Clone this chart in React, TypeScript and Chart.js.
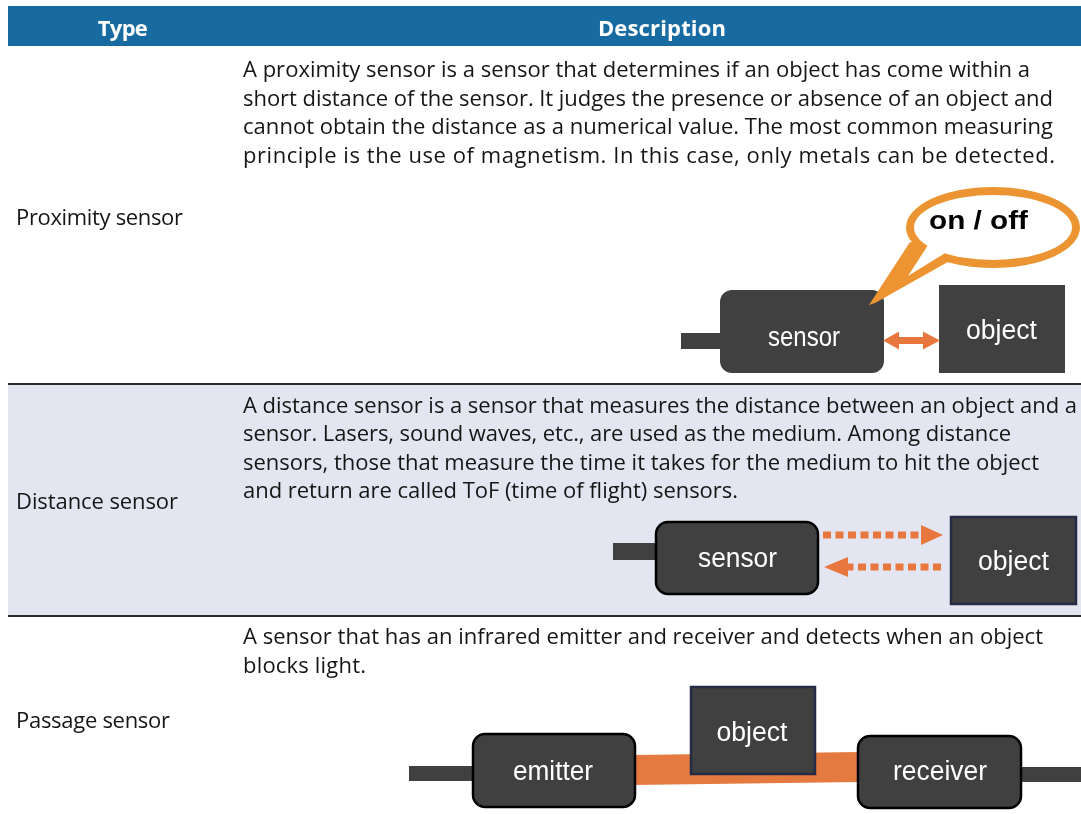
import React, { useEffect, useLayoutEffect, useRef } from "react";
import { Chart, registerables } from "chart.js";

Chart.register(...registerables);

// ---- data ----
const headers = ["Type", "Description"];
const types = ["Proximity sensor", "Distance sensor", "Passage sensor"];
const proximityLines = [
  "A proximity sensor is a sensor that determines if an object has come within a",
  "short distance of the sensor. It judges the presence or absence of an object and",
  "cannot obtain the distance as a numerical value. The most common measuring",
  "principle is the use of magnetism. In this case, only metals can be detected.",
];
const distanceLines = [
  "A distance sensor is a sensor that measures the distance between an object and a",
  "sensor. Lasers, sound waves, etc., are used as the medium. Among distance",
  "sensors, those that measure the time it takes for the medium to hit the object",
  "and return are called ToF (time of flight) sensors.",
];
const passageLines = [
  "A sensor that has an infrared emitter and receiver and detects when an object",
  "blocks light.",
];
const diagramWords = ["sensor", "object", "on / off", "emitter", "receiver"];

const headerWidths = [50, 128];
const typeWidths = [167, 162, 154];
const proximityWidths = [787, 810, 810, 812];
const distanceWidths = [834, 768, 796, 495];
const passageWidths = [800, 123];

const W = 1081;
const H = 814;
const DARK = "#404040";
const ORANGE = "#e8773f";
const BUBBLE = "#ec9431";
const FONT = "'Open Sans', 'Noto Sans', sans-serif";

function rrect(ctx: CanvasRenderingContext2D, x0: number, y0: number, x1: number, y1: number, r: number) {
  ctx.beginPath();
  ctx.moveTo(x0 + r, y0);
  ctx.lineTo(x1 - r, y0);
  ctx.arcTo(x1, y0, x1, y0 + r, r);
  ctx.lineTo(x1, y1 - r);
  ctx.arcTo(x1, y1, x1 - r, y1, r);
  ctx.lineTo(x0 + r, y1);
  ctx.arcTo(x0, y1, x0, y1 - r, r);
  ctx.lineTo(x0, y0 + r);
  ctx.arcTo(x0, y0, x0 + r, y0, r);
  ctx.closePath();
}

const diagramPlugin = {
  id: "diagrams",
  afterDraw(chart: any) {
    const ctx: CanvasRenderingContext2D = chart.ctx;
    const sx = chart.scales.x;
    const sy = chart.scales.y;
    const X = (v: number) => sx.getPixelForValue(v);
    const Y = (v: number) => sy.getPixelForValue(v);

    const rect = (x0: number, y0: number, x1: number, y1: number, fill: string) => {
      ctx.fillStyle = fill;
      ctx.fillRect(X(x0), Y(y0), X(x1) - X(x0), Y(y1) - Y(y0));
    };
    const box = (x0: number, y0: number, x1: number, y1: number, r: number, stroke: string | null) => {
      rrect(ctx, X(x0), Y(y0), X(x1), Y(y1), r);
      ctx.fillStyle = DARK;
      ctx.fill();
      if (stroke) {
        ctx.lineWidth = 2.5;
        ctx.strokeStyle = stroke;
        ctx.stroke();
      }
    };
    const label = (text: string, cx: number, base: number, w: number, font: string, color: string) => {
      ctx.save();
      ctx.font = font;
      ctx.fillStyle = color;
      ctx.textAlign = "left";
      ctx.textBaseline = "alphabetic";
      const m = ctx.measureText(text).width;
      ctx.translate(X(cx) - w / 2, Y(base));
      ctx.scale(w / m, 1);
      ctx.fillText(text, 0, 0);
      ctx.restore();
    };
    const poly = (pts: number[][], fill: string) => {
      ctx.beginPath();
      pts.forEach((p, i) => (i === 0 ? ctx.moveTo(X(p[0]), Y(p[1])) : ctx.lineTo(X(p[0]), Y(p[1]))));
      ctx.closePath();
      ctx.fillStyle = fill;
      ctx.fill();
    };
    const ellipse = (cx: number, cy: number, rx: number, ry: number, fill: string) => {
      ctx.beginPath();
      ctx.ellipse(X(cx), Y(cy), rx, ry, 0, 0, Math.PI * 2);
      ctx.fillStyle = fill;
      ctx.fill();
    };
    const labelFont = "27px 'Liberation Sans', Arial, sans-serif";

    // ---------- proximity diagram ----------
    rect(681, 333, 722, 349, DARK);
    box(720, 290, 884, 373, 12, null);
    rect(939, 285, 1065, 373, DARK);
    label(diagramWords[0], 804, 346, 72, labelFont, "#ffffff");
    label(diagramWords[1], 1001.5, 339, 71, labelFont, "#ffffff");
    poly(
      [
        [883, 340.5],
        [899, 331.5],
        [899, 337],
        [923, 337],
        [923, 331.5],
        [940, 340.5],
        [923, 349.5],
        [923, 344],
        [899, 344],
        [899, 349.5],
      ],
      ORANGE
    );

    // speech bubble (drawn over the sensor corner)
    ellipse(993, 227.5, 87, 40.5, BUBBLE);
    poly(
      [
        [910, 242],
        [962, 254],
        [875, 303],
        [869, 305],
      ],
      BUBBLE
    );
    ellipse(993, 227.5, 79, 32.5, "#ffffff");
    poly(
      [
        [930, 242],
        [950, 250],
        [908, 276],
      ],
      "#ffffff"
    );
    label(diagramWords[2], 978.5, 229, 99, "bold 26px 'Liberation Sans', Arial, sans-serif", "#000000");

    // ---------- distance diagram ----------
    rect(613, 543, 658, 560, DARK);
    box(656, 522, 818, 594, 12, "#000000");
    rrect(ctx, X(951), Y(517), X(1076), Y(604), 0);
    ctx.fillStyle = DARK;
    ctx.fill();
    ctx.lineWidth = 2.5;
    ctx.strokeStyle = "#262b45";
    ctx.stroke();
    label(diagramWords[0], 737.5, 567, 79, labelFont, "#ffffff");
    label(diagramWords[1], 1013.5, 570, 71, labelFont, "#ffffff");
    ctx.save();
    ctx.strokeStyle = ORANGE;
    ctx.lineWidth = 7;
    ctx.lineCap = "butt";
    ctx.setLineDash([8, 4.5]);
    ctx.beginPath();
    ctx.moveTo(X(823), Y(535));
    ctx.lineTo(X(921), Y(535));
    ctx.stroke();
    ctx.beginPath();
    ctx.moveTo(X(941), Y(567));
    ctx.lineTo(X(848), Y(567));
    ctx.stroke();
    ctx.restore();
    poly(
      [
        [921, 525],
        [943, 535],
        [921, 545],
      ],
      ORANGE
    );
    poly(
      [
        [848, 557],
        [824, 567],
        [848, 577],
      ],
      ORANGE
    );

    // ---------- passage diagram ----------
    rect(409, 766, 475, 781, DARK);
    rect(1019, 767, 1081, 782, DARK);
    poly(
      [
        [633, 755],
        [860, 752],
        [860, 782],
        [633, 785],
      ],
      "#e57a40"
    );
    box(473, 734, 635, 807, 12, "#000000");
    box(858, 736, 1021, 808, 12, "#000000");
    rrect(ctx, X(691), Y(687), X(815), Y(774), 0);
    ctx.fillStyle = DARK;
    ctx.fill();
    ctx.lineWidth = 2.5;
    ctx.strokeStyle = "#262b45";
    ctx.stroke();
    label(diagramWords[3], 553, 780, 80, labelFont, "#ffffff");
    label(diagramWords[1], 752, 741, 71, labelFont, "#ffffff");
    label(diagramWords[4], 940, 780, 94, labelFont, "#ffffff");
  },
};

function FitText({ text, width, style }: { text: string; width: number; style: React.CSSProperties }) {
  const ref = useRef<HTMLSpanElement | null>(null);
  useLayoutEffect(() => {
    const el = ref.current;
    if (!el) return;
    el.style.letterSpacing = "0px";
    const w = el.getBoundingClientRect().width;
    const n = Math.max(1, text.length - 1);
    el.style.letterSpacing = (width - w) / n + "px";
  }, [text, width]);
  return (
    <span ref={ref} style={{ whiteSpace: "nowrap", display: "inline-block", ...style }}>
      {text}
    </span>
  );
}

const textStyle: React.CSSProperties = {
  fontFamily: FONT,
  fontSize: 22,
  lineHeight: "28.6px",
  color: "#161616",
};

function Lines({ lines, widths, top }: { lines: string[]; widths: number[]; top: number }) {
  return (
    <>
      {lines.map((t, i) => (
        <div key={i} style={{ position: "absolute", left: 243, top: top + i * 28.6, whiteSpace: "nowrap" }}>
          <FitText text={t} width={widths[i]} style={textStyle} />
        </div>
      ))}
    </>
  );
}

export default function App() {
  const ref = useRef<HTMLCanvasElement | null>(null);
  useEffect(() => {
    if (!ref.current) return;
    const chart = new Chart(ref.current, {
      type: "scatter",
      data: { datasets: [] },
      options: {
        animation: false,
        responsive: false,
        devicePixelRatio: 1,
        layout: { padding: 0 },
        plugins: { legend: { display: false }, tooltip: { enabled: false } },
        scales: {
          x: { type: "linear", min: 0, max: W, display: false },
          y: { type: "linear", min: 0, max: H, reverse: true, display: false },
        },
      },
      plugins: [diagramPlugin],
    });
    return () => chart.destroy();
  }, []);

  const headStyle: React.CSSProperties = { ...textStyle, fontWeight: 700, color: "#ffffff" };
  const typeTops = [201.5, 485.5, 704.5];

  return (
    <div style={{ position: "relative", width: W, height: H, overflow: "hidden", background: "#ffffff" }}>
      <style>{"html,body{margin:0;padding:0;overflow:hidden;background:#fff}"}</style>
      <div style={{ position: "absolute", left: 8, top: 6, width: W - 8, height: 40, background: "#176ba0" }} />
      <div style={{ position: "absolute", left: 8, top: 384, width: W - 8, height: 231, background: "#e3e6f0" }} />
      <div style={{ position: "absolute", left: 8, top: 382.5, width: W - 8, height: 2, background: "#2a2a2a" }} />
      <div style={{ position: "absolute", left: 8, top: 614.5, width: W - 8, height: 2, background: "#2a2a2a" }} />

      <canvas ref={ref} width={W} height={H} style={{ position: "absolute", left: 0, top: 0, width: W, height: H }} />

      <div style={{ position: "absolute", left: 8, width: 229, top: 12.5, textAlign: "center", whiteSpace: "nowrap" }}>
        <FitText text={headers[0]} width={headerWidths[0]} style={headStyle} />
      </div>
      <div style={{ position: "absolute", left: 237, width: 850, top: 12.5, textAlign: "center", whiteSpace: "nowrap" }}>
        <FitText text={headers[1]} width={headerWidths[1]} style={headStyle} />
      </div>

      {types.map((t, i) => (
        <div key={t} style={{ position: "absolute", left: 16, top: typeTops[i], whiteSpace: "nowrap" }}>
          <FitText text={t} width={typeWidths[i]} style={textStyle} />
        </div>
      ))}

      <Lines lines={proximityLines} widths={proximityWidths} top={54} />
      <Lines lines={distanceLines} widths={distanceWidths} top={389.5} />
      <Lines lines={passageLines} widths={passageWidths} top={621} />
    </div>
  );
}
